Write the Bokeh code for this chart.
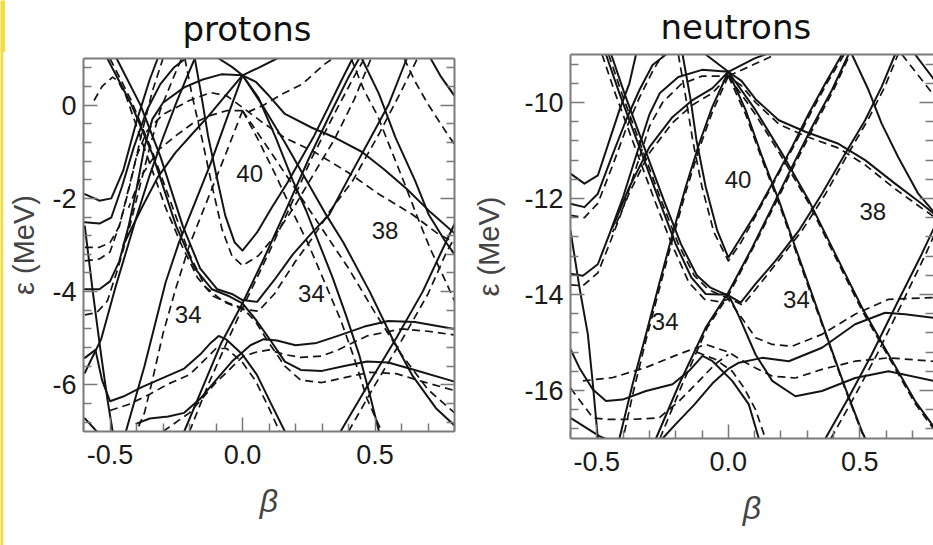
from bokeh.core.properties import value
from bokeh.embed import file_html
from bokeh.layouts import column, row
from bokeh.models import ColumnDataSource, CustomJSTickFormatter, FixedTicker, LinearAxis, Range1d
from bokeh.plotting import figure
from bokeh.resources import INLINE

# ---------------- protons: level energies (beta, MeV) ----------------
p_s_v40 = [(-0.18, 1.0), (-0.155, 0.2), (-0.13, -0.66), (-0.095, -1.6), (-0.065, -2.37), (-0.03, -2.94), (0.0, -3.12),
           (0.055, -2.73), (0.11, -2.2), (0.17, -1.66), (0.22, -1.16), (0.27, -0.66), (0.32, -0.09), (0.37, 0.49), (0.415, 1.0)]
p_s_dome = [(-0.595, -3.95), (-0.54, -3.95), (-0.5, -3.78), (-0.465, -3.35), (-0.43, -2.6), (-0.4, -1.8), (-0.37, -0.9),
            (-0.34, -0.3), (-0.3, 0.05), (-0.22, 0.38), (-0.15, 0.55), (-0.08, 0.66), (0.0, 0.64), (0.05, 0.5), (0.1, 0.2),
            (0.16, -0.19), (0.26, -0.48), (0.35, -0.7), (0.45, -1.0), (0.535, -1.38), (0.62, -1.8), (0.71, -2.3), (0.8, -2.75)]
p_s_o5 = [(0.0, 0.64), (-0.065, 0.2), (-0.128, -0.23), (-0.19, -0.62), (-0.253, -1.02), (-0.32, -1.55), (-0.38, -2.2),
          (-0.45, -3.0)]
p_s_a1 = [(-0.595, -1.91), (-0.54, -2.05), (-0.495, -2.0), (-0.45, -1.4), (-0.4, -0.35), (-0.35, 0.55), (-0.32, 1.0)]
p_s_a2 = [(-0.595, -2.51), (-0.54, -2.54), (-0.495, -2.41), (-0.455, -1.75), (-0.41, -0.9), (-0.36, -0.1), (-0.31, 0.45),
          (-0.26, 0.8), (-0.215, 1.0)]
p_s_far = [(-0.595, -2.6), (-0.565, -4.0), (-0.535, -5.3), (-0.51, -6.3), (-0.49, -7.0)]
p_s_o9 = [(0.0, 0.64), (-0.06, -0.3), (-0.12, -1.25), (-0.18, -2.1), (-0.24, -2.95), (-0.29, -3.8), (-0.33, -4.7),
          (-0.37, -5.6), (-0.41, -6.4), (-0.44, -7.0)]
p_s_o7 = [(-0.595, -5.74), (-0.534, -5.03), (-0.478, -3.88), (-0.44, -3.16), (-0.4, -2.4), (-0.35, -1.5), (-0.3, -0.7),
          (-0.25, 0.05), (-0.21, 0.6), (-0.18, 1.0)]
p_s_s3 = [(-0.51, 1.0), (-0.42, 0.02), (-0.34, -1.05), (-0.25, -2.6), (-0.18, -3.5), (-0.115, -3.95), (-0.05, -4.1),
          (0.0, -4.25), (0.05, -4.6), (0.1, -5.0), (0.16, -5.5), (0.22, -5.68), (0.3, -5.7), (0.38, -5.6), (0.47, -5.5),
          (0.55, -5.52), (0.65, -5.68), (0.8, -5.93)]
p_s_s4 = [(-0.475, 1.0), (-0.385, 0.0), (-0.31, -1.1), (-0.225, -2.6), (-0.16, -3.5), (-0.095, -3.95), (-0.04, -4.05),
          (0.0, -4.18), (0.055, -4.22), (0.12, -3.75), (0.19, -3.2), (0.26, -2.75), (0.327, -2.35), (0.402, -1.55),
          (0.477, -0.77), (0.552, 0.02), (0.62, 1.0)]
p_s_rise = [(-0.22, -7.0), (-0.15, -6.05), (-0.08, -5.1), (0.0, -4.25), (0.08, -3.3), (0.16, -2.3), (0.25, -1.15),
            (0.33, -0.2), (0.4, 0.6), (0.44, 1.0)]
p_s_l10 = [(0.0, 0.64), (0.06, 0.16), (0.125, -0.69), (0.19, -1.62), (0.24, -2.26), (0.29, -2.98), (0.34, -3.7),
           (0.39, -4.5), (0.44, -5.35), (0.48, -6.2), (0.515, -7.0)]
p_s_l11 = [(0.0, 0.64), (0.08, -0.05), (0.16, -0.8), (0.24, -1.6), (0.31, -2.3), (0.38, -2.94), (0.48, -4.0),
           (0.565, -5.0), (0.64, -5.79), (0.73, -6.5), (0.8, -6.87)]
p_s_up = [(0.0, 0.64), (0.06, 0.8), (0.13, 1.0)]
p_s_ul = [(-0.09, 1.0), (-0.04, 0.82), (0.0, 0.64)]
p_s_l14 = [(0.37, -7.0), (0.48, -5.94), (0.58, -5.0), (0.68, -4.0), (0.75, -3.15), (0.8, -2.55)]
p_s_l15 = [(0.45, 1.0), (0.515, 0.24), (0.577, -0.69), (0.652, -1.63), (0.702, -2.34), (0.765, -2.92), (0.8, -3.2)]
p_s_l16 = [(0.71, 1.0), (0.75, 0.6), (0.8, 0.2)]
p_s_wave = [(-0.4, -6.83), (-0.35, -6.72), (-0.28, -6.68), (-0.22, -6.6), (-0.16, -6.3), (-0.1, -5.9), (-0.04, -5.5),
            (0.03, -5.15), (0.08, -5.02), (0.13, -5.05), (0.2, -5.15), (0.28, -5.1), (0.36, -4.95), (0.46, -4.75),
            (0.55, -4.63), (0.65, -4.65), (0.8, -4.8)]
p_s_hump = [(-0.595, -5.42), (-0.555, -5.25), (-0.53, -5.9), (-0.5, -6.35), (-0.45, -6.25), (-0.38, -6.05), (-0.3, -5.85),
            (-0.22, -5.65), (-0.16, -5.35), (-0.12, -5.1), (-0.09, -4.95), (-0.06, -5.03), (0.0, -5.35), (0.054, -5.78),
            (0.11, -6.43), (0.16, -7.0)]
p_s_bl = [(-0.595, -6.72), (-0.55, -7.0)]

p_d_v40 = [(-0.2175, 1.0), (-0.19, 0.2), (-0.1525, -0.73), (-0.115, -1.73), (-0.0775, -2.66), (-0.04, -3.23), (0.0, -3.44),
           (0.06, -3.23), (0.1225, -2.8), (0.1975, -2.16), (0.2725, -1.44), (0.3475, -0.73), (0.4225, 0.13), (0.485, 1.0)]
p_d_dome = [(-0.595, -3.05), (-0.54, -3.05), (-0.5, -2.95), (-0.465, -2.6), (-0.43, -1.8), (-0.4, -1.1), (-0.36, -0.55),
            (-0.3, -0.2), (-0.2, 0.1), (-0.12, 0.27), (-0.06, 0.2), (0.0, -0.05), (0.07, -0.35), (0.16, -0.7), (0.27, -1.0),
            (0.4, -1.45), (0.515, -1.91), (0.64, -2.34), (0.74, -2.77), (0.8, -2.95)]
p_d_o5 = [(0.0, -0.12), (-0.06, -0.12), (-0.12, -0.22), (-0.19, -0.4), (-0.25, -0.65), (-0.315, -0.95), (-0.38, -1.5),
          (-0.43, -2.2)]
p_d_a2 = [(-0.595, -3.34), (-0.54, -3.3), (-0.5, -3.15), (-0.46, -2.5), (-0.42, -1.6), (-0.38, -0.6), (-0.34, 0.3), (-0.3, 1.0)]
p_d_a3 = [(-0.595, -4.5), (-0.55, -4.45), (-0.51, -4.2), (-0.47, -3.5), (-0.43, -2.7), (-0.39, -1.8), (-0.35, -0.9),
          (-0.31, -0.1), (-0.26, 0.6), (-0.23, 1.0)]
p_d_o9 = [(0.0, -0.12), (-0.06, -1.0), (-0.13, -2.0), (-0.2, -3.0), (-0.25, -3.9), (-0.3, -4.9), (-0.34, -5.9),
          (-0.37, -6.6), (-0.4, -7.0)]
p_d_tl = [(-0.56, 0.1), (-0.53, 0.4), (-0.49, 0.6), (-0.47, 0.52), (-0.44, 0.2), (-0.4, -0.45), (-0.35, -1.25),
          (-0.29, -2.2), (-0.23, -3.0), (-0.17, -3.7), (-0.11, -4.1), (-0.05, -4.25), (0.0, -4.35), (0.05, -4.65),
          (0.1, -5.1), (0.16, -5.6), (0.22, -5.9), (0.3, -5.95), (0.38, -5.85), (0.48, -5.73), (0.58, -5.76),
          (0.68, -5.93), (0.8, -6.12)]
p_d_s4 = [(-0.5, 1.0), (-0.42, 0.1), (-0.34, -1.0), (-0.26, -2.25), (-0.2, -3.2), (-0.14, -3.9), (-0.07, -4.22),
          (0.0, -4.38), (0.06, -4.42), (0.12, -4.05), (0.2, -3.35), (0.27, -2.8), (0.33, -2.27), (0.415, -1.63),
          (0.515, -0.62), (0.6, 0.31), (0.66, 1.0)]
p_d_rise = [(-0.2, -7.0), (-0.13, -6.0), (-0.06, -5.1), (0.0, -4.35), (0.08, -3.4), (0.17, -2.3), (0.26, -1.15),
            (0.35, -0.15), (0.42, 0.6), (0.46, 1.0)]
p_d_l10 = [(0.0, -0.12), (0.06, -0.75), (0.125, -1.5), (0.19, -2.3), (0.25, -3.0), (0.31, -3.8), (0.37, -4.6),
           (0.42, -5.4), (0.47, -6.3), (0.525, -7.0)]
p_d_l11 = [(0.0, -0.12), (0.1, -0.95), (0.2, -1.8), (0.3, -2.65), (0.4, -3.5), (0.5, -4.45), (0.6, -5.35), (0.7, -6.1),
           (0.8, -6.6)]
p_d_l14 = [(0.4, -7.0), (0.5, -6.0), (0.6, -5.05), (0.7, -4.05), (0.77, -3.15), (0.8, -2.85)]
p_d_l15 = [(0.61, 1.0), (0.65, 0.52), (0.7, 0.02), (0.765, -0.55), (0.8, -0.84)]
p_d_l15b = [(0.41, 1.0), (0.46, 0.3), (0.51, -0.23), (0.56, -0.95), (0.61, -1.66), (0.66, -2.4), (0.71, -3.1),
            (0.76, -3.7), (0.8, -4.2)]
p_d_up = [(0.02, -0.15), (0.08, 0.0), (0.15, 0.24), (0.225, 0.45), (0.31, 0.88), (0.34, 1.0)]
p_d_wave = [(-0.3, -7.0), (-0.2, -6.6), (-0.1, -5.95), (0.0, -5.4), (0.05, -5.3), (0.1, -5.25), (0.16, -5.35),
            (0.22, -5.41), (0.3, -5.38), (0.36, -5.25), (0.47, -4.95), (0.6, -4.8), (0.7, -4.85), (0.8, -4.93)]
p_d_hump = [(-0.5, -6.55), (-0.43, -6.42), (-0.35, -6.2), (-0.28, -5.98), (-0.2, -5.78), (-0.14, -5.45), (-0.1, -5.22),
            (-0.06, -5.22), (0.0, -5.52), (0.05, -5.92), (0.1, -6.5), (0.14, -7.0)]

proton_solid = [p_s_v40, p_s_dome, p_s_o5, p_s_a1, p_s_a2, p_s_far, p_s_o9, p_s_o7, p_s_s3, p_s_s4, p_s_rise,
                p_s_l10, p_s_l11, p_s_up, p_s_ul, p_s_l14, p_s_l15, p_s_l16, p_s_wave, p_s_hump, p_s_bl]
proton_dashed = [p_d_v40, p_d_dome, p_d_o5, p_d_a2, p_d_a3, p_d_o9, p_d_tl, p_d_s4, p_d_rise, p_d_l10, p_d_l11,
                 p_d_l14, p_d_l15, p_d_l15b, p_d_up, p_d_wave, p_d_hump]
proton_gap_text = ["40", "38", "34", "34"]
proton_gap_beta = [0.027, 0.538, -0.205, 0.26]
proton_gap_e = [-1.46, -2.69, -4.49, -4.05]

# ---------------- neutrons: level energies (beta, MeV) ----------------
n_s_v40 = [(-0.174, -9.0), (-0.143, -9.95), (-0.121, -10.79), (-0.086, -11.76), (-0.042, -12.67), (0.0, -13.23),
           (0.04, -12.88), (0.1035, -12.32), (0.167, -11.69), (0.242, -10.93), (0.306, -10.23), (0.369, -9.6), (0.432, -9.0)]
n_s_dome = [(-0.6, -13.57), (-0.553, -13.61), (-0.496, -13.37), (-0.452, -12.74), (-0.4, -11.97), (-0.35, -11.1),
            (-0.3, -10.25), (-0.26, -9.8), (-0.19, -9.47), (-0.1, -9.32), (0.0, -9.36), (0.05, -9.55), (0.1035, -9.93),
            (0.192, -10.37), (0.293, -10.61), (0.419, -10.86), (0.52, -11.2), (0.634, -11.69), (0.735, -12.11), (0.8, -12.4)]
n_s_o5 = [(0.0, -9.36), (-0.06, -9.7), (-0.136, -9.95), (-0.212, -10.3), (-0.3, -10.93), (-0.376, -11.76), (-0.44, -12.6)]
n_s_a1 = [(-0.6, -11.48), (-0.547, -11.69), (-0.496, -11.52), (-0.452, -10.79), (-0.414, -10.16), (-0.376, -9.6), (-0.351, -9.0)]
n_s_a2 = [(-0.6, -12.11), (-0.547, -12.18), (-0.496, -11.9), (-0.439, -11.07), (-0.389, -10.37), (-0.338, -9.74),
          (-0.288, -9.22), (-0.237, -9.0)]
n_s_far = [(-0.6, -12.67), (-0.566, -13.85), (-0.534, -14.83), (-0.515, -15.87), (-0.496, -17.0)]
n_s_s3 = [(-0.465, -9.0), (-0.414, -9.81), (-0.338, -10.93), (-0.263, -12.04), (-0.2, -12.95), (-0.14, -13.65),
          (-0.086, -13.99), (-0.035, -14.0), (0.0, -14.0), (0.04, -14.45), (0.1035, -15.25), (0.167, -15.8), (0.255, -16.12),
          (0.356, -16.01), (0.482, -15.74), (0.609, -15.6), (0.8, -15.82)]
n_s_s4 = [(-0.445, -9.0), (-0.395, -9.81), (-0.32, -10.93), (-0.245, -12.04), (-0.18, -12.95), (-0.12, -13.6),
          (-0.07, -13.85), (-0.03, -13.95), (0.0, -14.02), (0.047, -14.17), (0.1035, -13.78), (0.179, -13.3), (0.268, -12.67),
          (0.356, -11.9), (0.444, -11.07), (0.52, -10.37), (0.583, -9.67), (0.634, -9.0)]
n_s_rise = [(-0.275, -17.0), (-0.187, -15.87), (-0.086, -14.69), (0.0, -13.96), (0.091, -13.02), (0.167, -12.18),
            (0.242, -11.34), (0.318, -10.51), (0.394, -9.74), (0.457, -9.0)]
n_s_o9 = [(0.0, -9.36), (-0.061, -10.09), (-0.111, -10.86), (-0.162, -11.76), (-0.212, -12.74), (-0.263, -13.78),
          (-0.313, -14.83), (-0.364, -15.87), (-0.414, -17.0)]
n_s_l10 = [(0.0, -9.36), (0.066, -10.16), (0.129, -11.14), (0.192, -12.04), (0.255, -13.02), (0.318, -13.99),
           (0.381, -14.97), (0.444, -15.94), (0.508, -16.85), (0.52, -17.0)]
n_s_l11 = [(0.0, -9.36), (0.1035, -10.16), (0.205, -11.07), (0.306, -12.04), (0.407, -13.16), (0.508, -14.27),
           (0.609, -15.25), (0.71, -16.22), (0.8, -16.9)]
n_s_up = [(0.0, -9.36), (0.1, -9.08), (0.14, -9.0)]
n_s_ul = [(-0.086, -9.0), (0.0, -9.36)]
n_s_l14 = [(0.369, -17.0), (0.457, -16.15), (0.545, -15.25), (0.646, -14.13), (0.735, -13.16), (0.8, -12.4)]
n_s_l15 = [(0.47, -9.0), (0.533, -9.74), (0.583, -10.44), (0.646, -11.14), (0.722, -11.9), (0.8, -12.4)]
n_s_l16 = [(0.71, -9.0), (0.8, -9.65)]
n_s_wave = [(-0.25, -17.0), (-0.2, -16.7), (-0.13, -16.3), (-0.06, -15.85), (0.0, -15.55), (0.04, -15.42), (0.129, -15.32),
            (0.23, -15.39), (0.356, -15.11), (0.482, -14.62), (0.596, -14.38), (0.672, -14.41), (0.8, -14.5)]
n_s_hump = [(-0.6, -15.14), (-0.566, -15.53), (-0.515, -15.98), (-0.465, -16.22), (-0.402, -16.19), (-0.313, -16.01),
            (-0.212, -15.87), (-0.149, -15.59), (-0.098, -15.28), (-0.06, -15.39), (0.015, -15.8), (0.078, -16.29), (0.116, -17.0)]
n_s_bl = [(-0.6, -16.57), (-0.54, -16.78), (-0.49, -16.95), (-0.47, -17.0)]

n_d_v40 = [(-0.19, -9.0), (-0.16, -9.95), (-0.135, -10.8), (-0.1, -11.76), (-0.055, -12.7), (0.0, -13.3), (0.05, -12.9),
           (0.11, -12.3), (0.175, -11.65), (0.25, -10.9), (0.315, -10.2), (0.38, -9.55), (0.44, -9.0)]
n_d_dome = [(-0.6, -13.8), (-0.553, -13.82), (-0.496, -13.55), (-0.452, -12.95), (-0.4, -12.2), (-0.35, -11.35),
            (-0.3, -10.5), (-0.25, -10.0), (-0.18, -9.62), (-0.1, -9.45), (0.0, -9.45), (0.05, -9.65), (0.1035, -10.0),
            (0.192, -10.45), (0.293, -10.7), (0.419, -10.95), (0.52, -11.3), (0.634, -11.8), (0.735, -12.2), (0.8, -12.45)]
n_d_o5 = [(0.0, -9.45), (-0.06, -9.8), (-0.136, -10.05), (-0.212, -10.42), (-0.3, -11.05), (-0.376, -11.88), (-0.44, -12.7)]
n_d_a2 = [(-0.6, -12.35), (-0.547, -12.4), (-0.496, -12.1), (-0.439, -11.3), (-0.389, -10.55), (-0.338, -9.9),
          (-0.288, -9.35), (-0.25, -9.0)]
n_d_o9 = [(0.0, -9.45), (-0.061, -10.2), (-0.111, -10.97), (-0.162, -11.87), (-0.212, -12.85), (-0.263, -13.9),
          (-0.313, -14.95), (-0.36, -16.0), (-0.4, -17.0)]
n_d_s3 = [(-0.48, -9.0), (-0.43, -9.81), (-0.355, -10.93), (-0.28, -12.04), (-0.215, -12.95), (-0.15, -13.75),
          (-0.09, -14.1), (-0.035, -14.15), (0.0, -14.1), (0.04, -14.4), (0.1035, -14.9), (0.167, -15.04), (0.242, -15.08),
          (0.356, -14.83), (0.482, -14.41), (0.609, -14.1), (0.8, -14.06)]
n_d_s4 = [(-0.455, -9.0), (-0.405, -9.81), (-0.33, -10.93), (-0.255, -12.04), (-0.19, -12.95), (-0.13, -13.6),
          (-0.075, -13.9), (0.0, -14.08), (0.055, -14.22), (0.11, -13.85), (0.19, -13.3), (0.28, -12.67), (0.37, -11.9),
          (0.455, -11.07), (0.53, -10.37), (0.595, -9.67), (0.645, -9.0)]
n_d_rise = [(-0.26, -17.0), (-0.175, -15.87), (-0.08, -14.69), (0.0, -14.02), (0.095, -13.02), (0.172, -12.18),
            (0.248, -11.34), (0.325, -10.51), (0.4, -9.74), (0.462, -9.0)]
n_d_l10 = [(0.0, -9.45), (0.066, -10.25), (0.129, -11.2), (0.192, -12.1), (0.255, -13.08), (0.318, -14.05), (0.381, -15.0),
           (0.444, -15.97), (0.508, -16.88), (0.525, -17.0)]
n_d_l11 = [(0.0, -9.45), (0.1035, -10.25), (0.205, -11.15), (0.306, -12.1), (0.407, -13.22), (0.508, -14.33),
           (0.609, -15.3), (0.71, -16.27), (0.8, -16.95)]
n_d_l14 = [(0.39, -17.0), (0.477, -16.15), (0.565, -15.25), (0.665, -14.13), (0.75, -13.16), (0.8, -12.55)]
n_d_l15 = [(0.66, -9.0), (0.8, -9.98)]
n_d_up = [(0.0, -9.45), (0.1, -9.2), (0.18, -9.0)]
n_d_wave = [(-0.553, -15.8), (-0.439, -15.73), (-0.313, -15.52), (-0.187, -15.24), (-0.086, -15.04), (0.0, -15.2),
            (0.06, -15.4), (0.1035, -15.53), (0.167, -15.7), (0.255, -15.74), (0.356, -15.56), (0.482, -15.39),
            (0.609, -15.32), (0.8, -15.4)]
n_d_hump = [(-0.12, -15.2), (-0.05, -15.35), (0.015, -15.6), (0.06, -15.95), (0.1035, -16.4), (0.141, -17.0)]
n_d_bl = [(-0.6, -15.95), (-0.553, -16.29), (-0.515, -16.57), (-0.465, -16.6), (-0.364, -16.6), (-0.263, -16.57),
          (-0.187, -16.22), (-0.12, -15.85), (-0.05, -15.45), (0.0, -15.25)]

neutron_solid = [n_s_v40, n_s_dome, n_s_o5, n_s_a1, n_s_a2, n_s_far, n_s_s3, n_s_s4, n_s_rise, n_s_o9, n_s_l10,
                 n_s_l11, n_s_up, n_s_ul, n_s_l14, n_s_l15, n_s_l16, n_s_wave, n_s_hump, n_s_bl]
neutron_dashed = [n_d_v40, n_d_dome, n_d_o5, n_d_a2, n_d_o9, n_d_s3, n_d_s4, n_d_rise, n_d_l10, n_d_l11, n_d_l14,
                  n_d_l15, n_d_up, n_d_wave, n_d_hump, n_d_bl]
neutron_gap_text = ["40", "38", "34", "34"]
neutron_gap_beta = [0.037, 0.549, -0.24, 0.259]
neutron_gap_e = [-11.61, -12.27, -14.56, -14.1]

beta_ticks = [-0.5, 0.0, 0.5]
proton_e_ticks = [-6, -4, -2, 0]
neutron_e_ticks = [-16, -14, -12, -10]

INK = "#141414"
FRAME = "#7a7a7a"
TICK_FONT = "Liberation Sans"


def curves_source(curves):
    return ColumnDataSource(data=dict(xs=[[b for b, _ in c] for c in curves],
                                      ys=[[e for _, e in c] for c in curves]))


def style_axis(ax, major, minor, fmt, show_labels=True, show_line=True):
    ax.ticker = FixedTicker(ticks=major, minor_ticks=minor)
    ax.formatter = CustomJSTickFormatter(code=fmt if show_labels else "return ''")
    ax.major_tick_in = 14
    ax.major_tick_out = 0
    ax.minor_tick_in = 8
    ax.minor_tick_out = 0
    ax.major_tick_line_color = FRAME
    ax.minor_tick_line_color = FRAME
    ax.major_tick_line_width = 1.5
    ax.minor_tick_line_width = 1.5
    ax.axis_line_color = FRAME if show_line else None
    ax.axis_line_width = 2
    ax.major_label_text_font = TICK_FONT
    ax.major_label_text_color = "#1a1a1a"
    if show_labels:
        ax.major_label_text_font_size = "27px"
    else:
        ax.major_label_text_font_size = "1px"
        ax.major_label_standoff = 0


def nilsson_panel(name, name_offset, name_standoff, solid, dashed, gap_text, gap_beta, gap_e, e_range, e_ticks,
                  beta_end, width, border_left, border_right, border_top, border_bottom, ylabel_standoff, right_line):
    p = figure(width=width, height=545, x_range=Range1d(-0.6, beta_end), y_range=Range1d(*e_range),
               output_backend="svg", toolbar_location=None,
               x_axis_location=None, y_axis_location=None,
               min_border_left=border_left, min_border_right=border_right,
               min_border_top=border_top, min_border_bottom=border_bottom)
    p.outline_line_color = None
    p.grid.visible = False
    p.background_fill_color = "white"
    p.border_fill_color = "white"

    e_lo, e_hi = e_range
    e_minor = [round(k * 0.4, 1) for k in range(int(e_lo / 0.4) - 1, int(e_hi / 0.4) + 2)
               if e_lo < k * 0.4 < e_hi and round(k * 0.4, 1) not in e_ticks]
    b_minor = [round(k * 0.1, 1) for k in range(-6, 9) if round(k * 0.1, 1) not in beta_ticks]

    bottom = LinearAxis(axis_label="β", axis_label_text_font=TICK_FONT, axis_label_text_font_size="32px",
                        axis_label_text_font_style="italic", axis_label_standoff=16, major_label_standoff=13)
    style_axis(bottom, beta_ticks, b_minor, "return tick.toFixed(1)")
    p.add_layout(bottom, "below")

    left = LinearAxis(axis_label="ε (MeV)", axis_label_text_font=TICK_FONT, axis_label_text_font_size="29px",
                      axis_label_text_font_style="normal", axis_label_standoff=ylabel_standoff, major_label_standoff=7)
    style_axis(left, e_ticks, e_minor, "return tick.toFixed(0)")
    p.add_layout(left, "left")

    right = LinearAxis()
    style_axis(right, e_ticks, e_minor, "", show_labels=False, show_line=right_line)
    p.add_layout(right, "right")

    top = LinearAxis()
    style_axis(top, [], [], "", show_labels=False)
    top.major_tick_in = 0
    top.minor_tick_in = 0
    p.add_layout(top, "above")

    p.title.text = name
    p.title.align = "left"
    p.title.vertical_align = "top"
    p.title.offset = name_offset
    p.title.standoff = name_standoff
    p.title.text_font = "DejaVu Sans"
    p.title.text_font_size = "34px"
    p.title.text_font_style = "normal"
    p.title.text_color = "#111111"

    p.multi_line(xs="xs", ys="ys", source=curves_source(dashed), line_color=INK, line_width=1.7,
                 line_dash="8 5", line_join="round")
    p.multi_line(xs="xs", ys="ys", source=curves_source(solid), line_color=INK, line_width=2.0,
                 line_join="round", line_cap="round")
    p.text(x=gap_beta, y=gap_e, text=gap_text, text_align="center", text_baseline="middle",
           text_font=value(TICK_FONT), text_font_size=value("24px"), text_color="#1a1a1a")
    return p


# thin highlight strip on the page's left edge
strip = figure(width=5, height=545, x_range=Range1d(0, 5), y_range=Range1d(0, 545),
               output_backend="svg", toolbar_location=None, x_axis_type=None, y_axis_type=None,
               min_border=0)
strip.outline_line_color = None
strip.grid.visible = False
strip.background_fill_color = "#f7da3e"
strip.border_fill_color = "#f7da3e"
strip.quad(left=[3.3], right=[5], bottom=[0], top=[493], color="white")

protons = nilsson_panel("protons", 99, 16, proton_solid, proton_dashed, proton_gap_text, proton_gap_beta,
                        proton_gap_e, (-7, 1), proton_e_ticks, 0.8, width=465, border_left=77, border_right=16,
                        border_top=58, border_bottom=114, ylabel_standoff=9, right_line=True)
neutrons = nilsson_panel("neutrons", 90, 12, neutron_solid, neutron_dashed, neutron_gap_text, neutron_gap_beta,
                         neutron_gap_e, (-17, -9), neutron_e_ticks, 0.78, width=463, border_left=98,
                         border_right=0, border_top=54, border_bottom=107, ylabel_standoff=16, right_line=False)

layout = row(column(strip), column(protons), column(neutrons), spacing=0)
open("out.html", "w").write(file_html(layout, INLINE))
